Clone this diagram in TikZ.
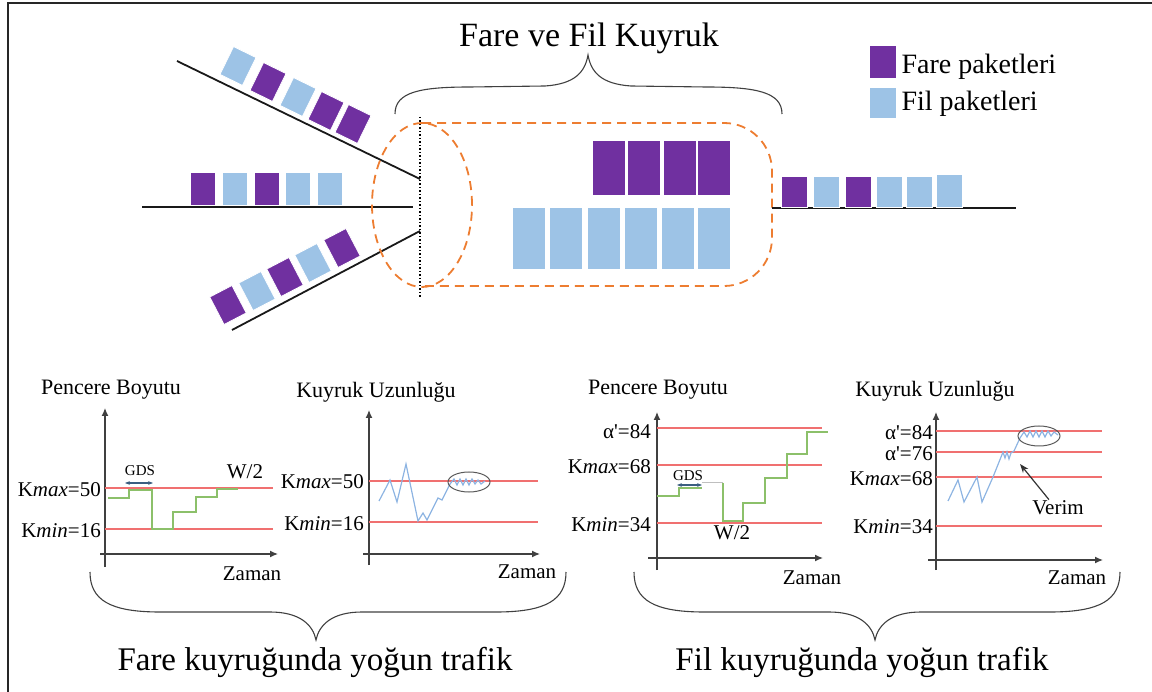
\documentclass[tikz,border=0pt]{standalone}
\usepackage{fontspec}
\setmainfont{Liberation Serif}
\usetikzlibrary{arrows.meta}

\definecolor{farecol}{HTML}{7030A0}
\definecolor{filcol}{HTML}{9DC3E6}
\definecolor{kuyrukcol}{HTML}{ED7D31}
\definecolor{esikcol}{HTML}{F07070}
\definecolor{pencerecol}{HTML}{8CC06A}
\definecolor{uzunlukcol}{HTML}{8DB4E2}
\definecolor{gdscol}{HTML}{3B5E80}

\tikzset{
  paket/.style={draw=white, line width=0.8pt, inner sep=0pt},
  hat/.style={line width=1.8pt, black!90},
  kuyruk/.style={kuyrukcol, line width=1.8pt, dash pattern=on 9pt off 6pt},
  parantez/.style={line width=1.1pt, black!75},
  eksen/.style={line width=1.3pt, black!75, -{Latex[length=8pt,width=7pt]}},
  esik/.style={esikcol, line width=1.2pt},
  pencere/.style={pencerecol, line width=1.2pt},
  uzunluk/.style={uzunlukcol, line width=1.2pt},
  halka/.style={black!65, line width=1pt},
  gdsok/.style={gdscol, line width=1.2pt, {Stealth[length=5pt]}-{Stealth[length=5pt]}},
  etiket/.style={font=\fontsize{21}{24}\selectfont, inner sep=1pt},
  baslik/.style={font=\fontsize{22}{25}\selectfont, inner sep=1pt},
  kucuk/.style={font=\fontsize{15}{17}\selectfont, inner sep=1pt},
}

\begin{document}
\begin{tikzpicture}[x=1pt, y=-1pt]
\useasboundingbox (0,0) rectangle (1152,692);
% cerceve
\draw[line width=2pt, black!85] (8,692) -- (8,3) -- (1152,3);

% ust kisim: gelen hatlar ve paketler
\node[font=\fontsize{34}{38}\selectfont] (ustbaslik) at (589,38) {Fare ve Fil Kuyruk};
\draw[parantez] (395,114) .. controls (395,92) and (420,87) .. (470,87) -- (545,86) .. controls (575,84) and (585,72) .. (588,55) .. controls (591,72) and (601,84) .. (631,86) -- (706,87) .. controls (756,87) and (782,92) .. (782,114);

\draw[hat] (177,61) -- (420,179);
\draw[hat] (142,207) -- (413,207);
\draw[hat] (232,330) -- (420,231);
\draw[dotted, line width=1.5pt] (420,117) -- (420,297);

\foreach \x/\y/\renk [count=\i] in {238/66/filcol, 268/82/farecol, 298/97/filcol, 326/111/farecol, 353/124/farecol}
  \node[paket, fill=\renk, minimum width=25pt, minimum height=31pt, rotate=-26] (u\i) at (\x,\y) {};
\foreach \x/\renk [count=\i] in {203/farecol, 235/filcol, 267/farecol, 298/filcol, 330/filcol}
  \node[paket, fill=\renk, minimum width=25pt, minimum height=33pt] (o\i) at (\x,189) {};
\foreach \x/\y/\renk [count=\i] in {228/305/farecol, 257/291/filcol, 285/277/farecol, 313/263/filcol, 342/248/farecol}
  \node[paket, fill=\renk, minimum width=25pt, minimum height=31pt, rotate=27.5] (a\i) at (\x,\y) {};

% kuyruk
\draw[kuyruk] (422,205) ellipse [x radius=50pt, y radius=82pt];
\draw[kuyruk, rounded corners=48pt] (422,123) -- (772,123) -- (772,286) -- (422,286);
\foreach \x [count=\i] in {608.5, 644, 680, 714}
  \node[paket, fill=farecol, minimum width=33pt, minimum height=55pt] (k\i) at (\x,168) {};
\foreach \x [count=\i] in {529, 566, 603.5, 640.5, 677.5, 714}
  \node[paket, fill=filcol, minimum width=33pt, minimum height=62pt] (f\i) at (\x,238.5) {};

% cikis
\draw[hat] (772,208) -- (1016,208);
\foreach \x/\renk [count=\i] in {794.5/farecol, 826.5/filcol, 858.5/farecol, 889.5/filcol, 919.5/filcol}
  \node[paket, fill=\renk, minimum width=26pt, minimum height=31pt] (c\i) at (\x,192) {};
\node[paket, fill=filcol, minimum width=26pt, minimum height=33pt] (c6) at (949.5,191) {};

% gosterge
\node[paket, fill=farecol, minimum width=27pt, minimum height=33pt] (gfare) at (883,62) {};
\node[paket, fill=filcol, minimum width=27pt, minimum height=31pt] (gfil) at (883,103) {};
\node[font=\fontsize{28}{32}\selectfont, anchor=west] (tfare) at (898,67) {Fare paketleri};
\node[font=\fontsize{28}{32}\selectfont, anchor=west] (tfil) at (898,104) {Fil paketleri};

% grafik 1: pencere boyutu (fare)
\node[baslik] (pb1) at (111,390) {Pencere Boyutu};
\draw[eksen] (105,567) -- (105,408);
\draw[eksen] (100,554) -- (278,554);
\draw[esik] (105,488) -- (273,488);
\draw[esik] (105,529) -- (273,529);
\node[etiket, anchor=east] (kmax1) at (102,490) {K\textit{max}=50};
\node[etiket, anchor=east] (kmin1) at (102,531) {K\textit{min}=16};
\draw[pencere] (108,498) -- (129,498) -- (129,490) -- (152,490) -- (152,529) -- (173,529) -- (173,512) -- (196,512) -- (196,497) -- (217,497) -- (217,489) -- (238,489);
\node[kucuk] (gds1) at (140,471) {GDS};
\draw[gdsok] (125,483) -- (153,483);
\node[etiket] (w1) at (245,472) {W/2};
\node[etiket] (zaman1) at (252,574) {Zaman};

% grafik 2: kuyruk uzunlugu (fare)
\node[baslik] (ku1) at (376,392) {Kuyruk Uzunluğu};
\draw[eksen] (369,565) -- (369,410);
\draw[eksen] (363,554) -- (540,554);
\draw[esik] (369,481) -- (538,481);
\draw[esik] (369,522) -- (538,522);
\node[etiket, anchor=east] (kmax2) at (365,482) {K\textit{max}=50};
\node[etiket, anchor=east] (kmin2) at (365,524) {K\textit{min}=16};
\draw[uzunluk] (379,501) -- (390,480) -- (397,502) -- (406,464) -- (418,521) -- (423,513) -- (427,520) -- (438,498) -- (442,500) -- (450,484) -- (454,479) -- (457,485) -- (460,479) -- (463,485) -- (466,479) -- (469,485) -- (472,479) -- (475,484) -- (478,480) -- (481,484) -- (485,481);
\draw[halka] (469,482) ellipse [x radius=21pt, y radius=10pt];
\node[etiket] (zaman2) at (527,572) {Zaman};

% grafik 3: pencere boyutu (fil)
\node[baslik] (pb2) at (658,390) {Pencere Boyutu};
\draw[eksen] (657,570) -- (657,412);
\draw[eksen] (648,558) -- (823,558);
\draw[esik] (657,428) -- (822,428);
\draw[esik] (657,465) -- (822,465);
\draw[esik] (657,523) -- (822,523);
\node[etiket, anchor=east] (alfa3) at (652,432) {α\textquotesingle=84};
\node[etiket, anchor=east] (kmax3) at (652,467) {K\textit{max}=68};
\node[etiket, anchor=east] (kmin3) at (652,525) {K\textit{min}=34};
\draw[pencere] (657,496) -- (679,496) -- (679,488) -- (702,488);
\draw[black!25, line width=1pt] (702,483) -- (723,483);
\draw[pencere] (723,483) -- (723,521) -- (743,521) -- (743,503) -- (765,503) -- (765,478) -- (787,478) -- (787,454) -- (807,454) -- (807,432) -- (828,432);
\node[kucuk] (gds2) at (688,476) {GDS};
\draw[gdsok] (677,485) -- (702,485);
\node[etiket] (w2) at (732,533) {W/2};
\node[etiket] (zaman3) at (812,578) {Zaman};

% grafik 4: kuyruk uzunlugu (fil)
\node[baslik] (ku2) at (935,391) {Kuyruk Uzunluğu};
\draw[eksen] (936,570) -- (936,412);
\draw[eksen] (928,560) -- (1103,560);
\draw[esik] (936,431) -- (1102,431);
\draw[esik] (936,452) -- (1102,452);
\draw[esik] (936,477) -- (1102,477);
\draw[esik] (936,526) -- (1102,526);
\node[etiket, anchor=east] (alfa4) at (934,433) {α\textquotesingle=84};
\node[etiket, anchor=east] (alfb4) at (934,454) {α\textquotesingle=76};
\node[etiket, anchor=east] (kmax4) at (934,479) {K\textit{max}=68};
\node[etiket, anchor=east] (kmin4) at (934,527) {K\textit{min}=34};
\draw[uzunluk] (948,501) -- (958,480) -- (964,502) -- (977,477) -- (982,502) -- (993,477) -- (1003,452) -- (1005,458) -- (1007,452) -- (1009,459) -- (1011,453) -- (1014,451) -- (1020,438) -- (1024,432) -- (1027,437) -- (1030,431) -- (1033,437) -- (1036,431) -- (1039,437) -- (1042,431) -- (1045,437) -- (1048,431) -- (1051,436) -- (1054,432) -- (1058,435);
\draw[halka] (1039,436) ellipse [x radius=21pt, y radius=10pt];
\node[etiket] (verim) at (1058,508) {Verim};
\coordinate (verimuc) at (1020,464);
\draw[black!80, line width=1.2pt, -{Stealth[length=9pt]}] ([xshift=-9pt]verim.north) -- (verimuc);
\node[etiket] (zaman4) at (1077,578) {Zaman};

% alt parantezler
\draw[parantez] (90,572) .. controls (90,600) and (110,612) .. (160,612) -- (270,612) .. controls (300,612) and (313,625) .. (316,640) .. controls (319,625) and (332,612) .. (362,612) -- (496,612) .. controls (546,612) and (566,600) .. (566,572);
\draw[parantez] (634,572) .. controls (634,600) and (654,612) .. (704,612) -- (829,612) .. controls (859,612) and (872,625) .. (875,640) .. controls (878,625) and (891,612) .. (921,612) -- (1050,612) .. controls (1100,612) and (1120,600) .. (1120,572);
\node[font=\fontsize{33}{37}\selectfont] (fareyogun) at (315,662) {Fare kuyruğunda yoğun trafik};
\node[font=\fontsize{33}{37}\selectfont] (filyogun) at (862,662) {Fil kuyruğunda yoğun trafik};
\end{tikzpicture}
\end{document}
